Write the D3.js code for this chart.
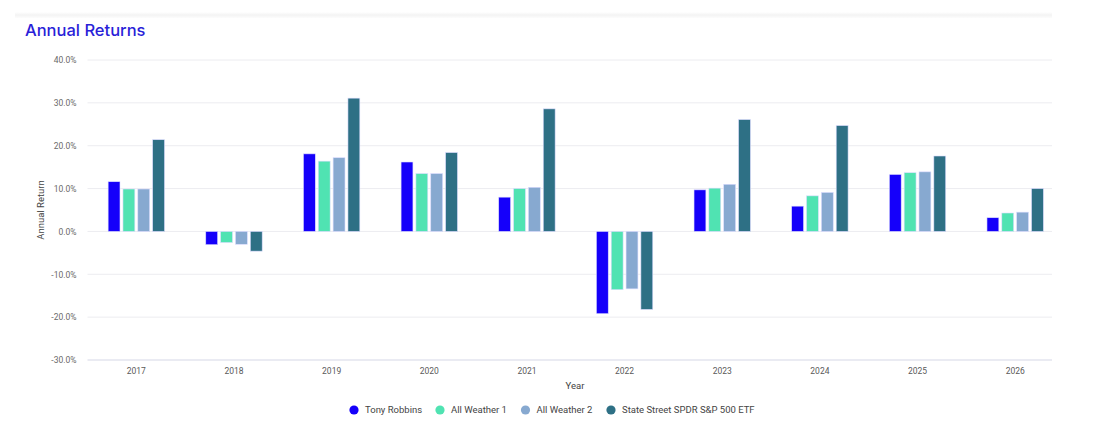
<!DOCTYPE html>
<html>
<head>
<meta charset="utf-8">
<script src="https://cdn.jsdelivr.net/npm/d3@7"></script>
<style>
  html, body { margin: 0; padding: 0; background: #fff; }
  svg { display: block; }
</style>
</head>
<body>
<svg id="chart" width="1108" height="435"></svg>
<script>
const years = ["2017","2018","2019","2020","2021","2022","2023","2024","2025","2026"];
const seriesNames = ["Tony Robbins","All Weather 1","All Weather 2","State Street SPDR S&P 500 ETF"];
const seriesColors = ["#1500fa","#50e3b2","#87a9d0","#2e7085"];
const tonyRobbins = [11.6, -3.1, 18.1, 16.2, 8.0, -19.2, 9.7, 5.9, 13.3, 3.2];
const allWeather1 = [9.9, -2.6, 16.4, 13.5, 10.0, -13.6, 10.1, 8.3, 13.7, 4.3];
const allWeather2 = [9.9, -3.0, 17.2, 13.5, 10.3, -13.4, 11.0, 9.1, 13.9, 4.5];
const spdrSP500 = [21.4, -4.6, 31.1, 18.4, 28.6, -18.2, 26.1, 24.7, 17.6, 10.0];
const yTicks = [-30, -20, -10, 0, 10, 20, 30, 40];

const seriesValues = [tonyRobbins, allWeather1, allWeather2, spdrSP500];

const svg = d3.select("#chart");
const plotLeft = 87.5, plotRight = 1052, bandStep = 97.65;
const y = d3.scaleLinear().domain([-30, 40]).range([360, 60]);
const x = d3.scaleBand().domain(years).range([plotLeft, plotLeft + bandStep * years.length]);
const xs = d3.scaleBand().domain(d3.range(seriesNames.length)).range([-28.5, 28.5]).paddingInner(0.2).paddingOuter(0.02);

// card top shadow
const defs = svg.append("defs");
const grad = defs.append("linearGradient").attr("id","sh").attr("x1",0).attr("x2",0).attr("y1",0).attr("y2",1);
grad.append("stop").attr("offset","0").attr("stop-color","#ffffff");
grad.append("stop").attr("offset","0.5").attr("stop-color","#f4f4f4");
grad.append("stop").attr("offset","1").attr("stop-color","#fcfcfc");
svg.append("rect").attr("x", 15).attr("y", 12).attr("width", plotRight - 15).attr("height", 6).attr("fill", "url(#sh)");

// title
svg.append("text").attr("x", 25).attr("y", 35.5)
  .attr("font-family", "Inter, 'Open Sans', sans-serif").attr("font-size", 16.5).attr("font-weight", 500)
  .attr("fill", "#2a1fd8").text("Annual Returns");

// grid
svg.append("g").selectAll("line").data(yTicks.filter(d => d !== -30)).join("line")
  .attr("x1", plotLeft).attr("x2", plotRight)
  .attr("y1", d => y(d)).attr("y2", d => y(d))
  .attr("stroke", "#ececf0").attr("stroke-width", 1);

// y axis labels
const yAxis = d3.axisLeft(y).tickValues(yTicks).tickSize(0).tickPadding(0).tickFormat(d => d.toFixed(1) + "%");
const gy = svg.append("g").attr("transform", `translate(${plotLeft - 11},0)`).call(yAxis);
gy.select(".domain").remove();
gy.selectAll("text").attr("font-family", "Roboto, sans-serif").attr("font-size", 8.5).attr("fill", "#6a6a6a");

// bars
const groups = svg.append("g").selectAll("g").data(years).join("g")
  .attr("transform", d => `translate(${x(d) + x.bandwidth() / 2},0)`);
groups.selectAll("rect").data((yr, i) => seriesValues.map((vals, s) => ({ s, v: vals[i] }))).join("rect")
  .attr("x", d => xs(d.s))
  .attr("width", xs.bandwidth())
  .attr("y", d => y(Math.max(0, d.v)))
  .attr("height", d => Math.abs(y(d.v) - y(0)))
  .attr("fill", d => seriesColors[d.s])
  .attr("stroke", "#dcdcff").attr("stroke-width", 0.6);

// x axis
const xAxis = d3.axisBottom(x).tickSize(0).tickPadding(8);
const gx = svg.append("g").attr("transform", `translate(0,${y(-30)})`).call(xAxis);
gx.select(".domain").remove();
gx.selectAll("text").attr("font-family", "Roboto, sans-serif").attr("font-size", 8.5).attr("fill", "#5a5a5a");
svg.append("line").attr("x1", plotLeft).attr("x2", plotRight).attr("y1", y(-30)).attr("y2", y(-30))
  .attr("stroke", "#d5d7e6").attr("stroke-width", 1);

// axis titles
svg.append("text").attr("x", 575).attr("y", 389).attr("text-anchor", "middle")
  .attr("font-family", "Roboto, sans-serif").attr("font-size", 9.5).attr("fill", "#444").text("Year");
svg.append("text").attr("transform", `translate(44,${(y(40)+y(-30))/2}) rotate(-90)`).attr("text-anchor", "middle")
  .attr("font-family", "Roboto, sans-serif").attr("font-size", 9.5).attr("fill", "#444").text("Annual Return");

// legend
const legendX = [354, 440, 525.5, 611];
const lg = svg.append("g").selectAll("g").data(seriesNames).join("g")
  .attr("transform", (d, i) => `translate(${legendX[i]},410)`);
lg.append("circle").attr("r", 4.6).attr("fill", (d, i) => seriesColors[i]);
lg.append("text").attr("x", 11).attr("dy", "0.35em")
  .attr("font-family", "Roboto, sans-serif").attr("font-size", 9.5).attr("fill", "#444").text(d => d);
</script>
</body>
</html>
